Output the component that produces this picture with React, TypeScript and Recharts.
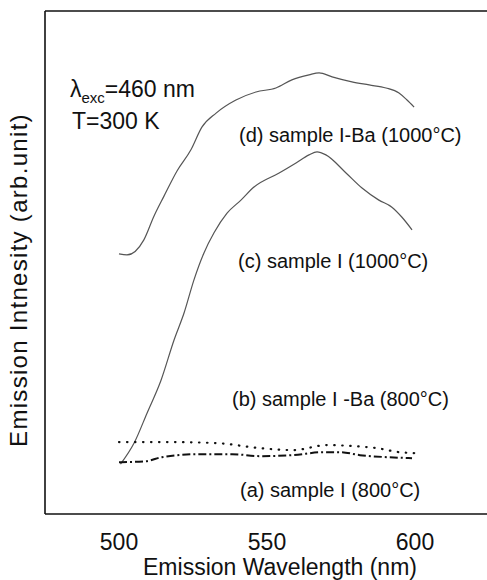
import { LineChart, Line, XAxis, YAxis, Customized } from 'recharts';

const tickNm = [500, 550, 600];

// (d) sample I-Ba (1000°C)
const dNm = [500, 502.7, 508.4, 511.8, 515.2, 519.6, 524.3, 528, 532.8, 539.5, 546.3, 553, 558.4, 564.2, 567.6, 572, 578.7, 584.5, 590.2, 594.6, 597.3, 599.7];
const dInt = [51.7, 51.5, 54.5, 59.2, 63.2, 68.2, 72.4, 76.9, 79.7, 82.3, 83.9, 84.7, 86.3, 87.3, 87.7, 86.9, 85.9, 85.3, 84.7, 83.7, 82.3, 80.9];

// (c) sample I (1000°C)
const cNm = [500.5, 505.1, 509.5, 514.2, 518.6, 522, 525.3, 528.7, 532.1, 536.5, 541.2, 545.6, 554.1, 559.8, 564.2, 566.9, 569.9, 576.7, 582.1, 587.8, 592.2, 595.6, 599];
const cInt = [9.9, 14.1, 20.1, 26.6, 34.6, 40.0, 46.5, 51.9, 55.9, 59.8, 62.4, 65.0, 67.8, 69.8, 71.4, 72.0, 71.4, 67.8, 64.8, 62.4, 61.0, 59.0, 56.5];

// (b) sample I -Ba (800°C)
const bNm = [500, 515.9, 532.8, 547.6, 558.8, 570.3, 579, 587.1, 594.6, 600];
const bInt = [14.3, 14.3, 14.1, 13.1, 12.7, 13.7, 13.5, 13.1, 12.3, 12.1];

// (a) sample I (800°C)
const aNm = [500, 509.1, 514.5, 527, 538.2, 547.6, 558.8, 569, 574.7, 581.4, 590.5, 599];
const aInt = [10.3, 10.5, 11.3, 11.9, 11.9, 11.5, 11.7, 12.3, 12.3, 11.7, 11.3, 11.1];

const zip = (xs: number[], ys: number[]) => xs.map((nm, i) => ({ nm, v: ys[i] }));

const font = '"Liberation Sans", Arial, Helvetica, sans-serif';
const frame = { stroke: '#111', strokeWidth: 1.6 };

function Annotations() {
  return (
    <g fontFamily={font} fill="#111">
      <text x={18} y={280} fontSize={24} letterSpacing={1.3} textAnchor="middle" dominantBaseline="central" transform="rotate(-90 18 280)">
        Emission Intnesity (arb.unit)
      </text>
      <text x={280} y={575} fontSize={23} textAnchor="middle">Emission Wavelength (nm)</text>
      <text x={70} y={97} fontSize={23}>
        λ<tspan fontSize={15} dy={6}>exc</tspan><tspan dy={-6}>=460 nm</tspan>
      </text>
      <text x={72} y={129} fontSize={23}>T=300 K</text>
      <text x={239} y={142} fontSize={20}>(d) sample I-Ba (1000°C)</text>
      <text x={238} y={268} fontSize={20}>(c) sample I (1000°C)</text>
      <text x={232} y={406} fontSize={20}>(b) sample I -Ba (800°C)</text>
      <text x={240} y={497} fontSize={20}>(a) sample I (800°C)</text>
    </g>
  );
}

export default function App() {
  return (
    <div style={{ position: 'absolute', left: 0, top: 0, width: 487, height: 580, overflow: 'hidden', background: '#fff' }}>
      <LineChart width={495} height={580} margin={{ top: 10, right: 6, left: 44, bottom: 0 }} style={{ fontFamily: font }}>
        <XAxis
          dataKey="nm"
          type="number"
          domain={[475, 625]}
          ticks={tickNm}
          height={66}
          tickLine={false}
          tickSize={0}
          tickMargin={20}
          tick={{ fontSize: 23, fill: '#111' }}
          axisLine={frame}
        />
        <XAxis xAxisId="top" orientation="top" type="number" domain={[475, 625]} height={1} tick={false} tickLine={false} axisLine={frame} />
        <YAxis type="number" domain={[0, 100]} width={1} tick={false} tickLine={false} axisLine={frame} />
        <Line data={zip(dNm, dInt)} dataKey="v" type="monotone" stroke="#555" strokeWidth={1.2} dot={false} isAnimationActive={false} />
        <Line data={zip(cNm, cInt)} dataKey="v" type="monotone" stroke="#555" strokeWidth={1.2} dot={false} isAnimationActive={false} />
        <Line data={zip(bNm, bInt)} dataKey="v" type="monotone" stroke="#111" strokeWidth={2.2} strokeDasharray="0.5 7.5" strokeLinecap="round" dot={false} isAnimationActive={false} />
        <Line data={zip(aNm, aInt)} dataKey="v" type="monotone" stroke="#111" strokeWidth={2} strokeDasharray="8 3 2 3" dot={false} isAnimationActive={false} />
        <Customized component={Annotations} />
      </LineChart>
    </div>
  );
}
